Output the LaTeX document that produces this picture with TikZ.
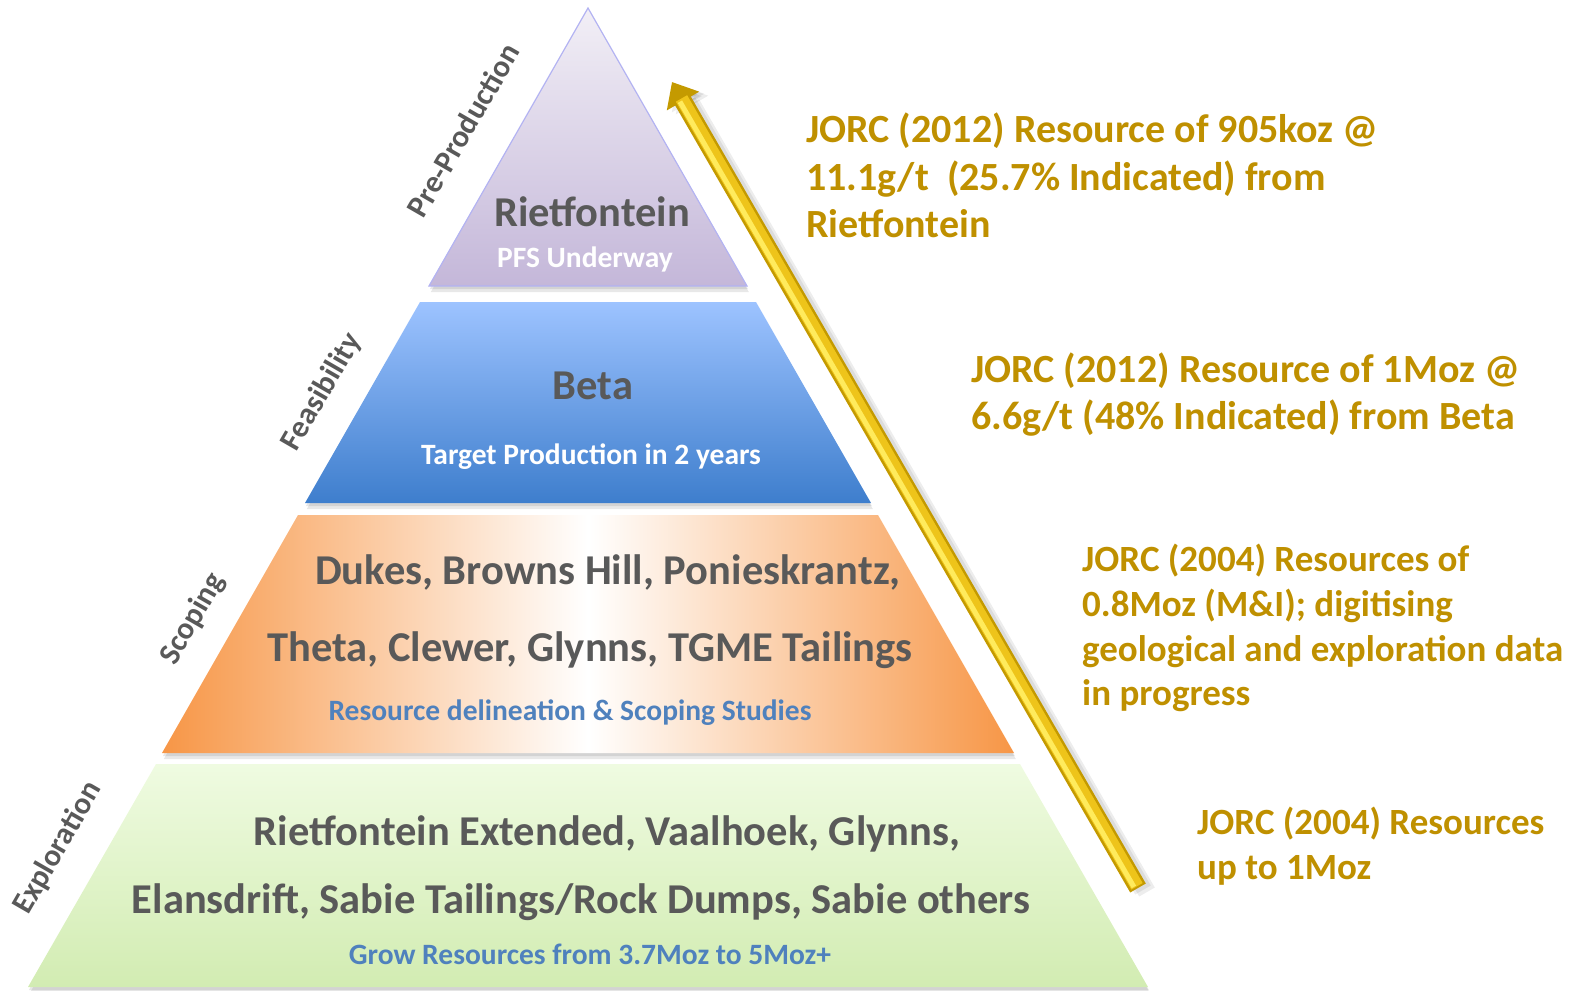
\documentclass[tikz,border=0pt]{standalone}
\usepackage{fontspec}
\setmainfont{Carlito}
\usetikzlibrary{arrows.meta}
\definecolor{dgray}{HTML}{595959}
\definecolor{bluetxt}{HTML}{4F81BD}
\definecolor{goldtxt}{HTML}{BF9000}
\definecolor{triTop}{HTML}{F2EFF6}
\definecolor{triBot}{HTML}{C4B7D9}
\definecolor{triEdge}{HTML}{B3B3F2}
\definecolor{betaTop}{HTML}{9DC3FF}
\definecolor{betaBot}{HTML}{3E7ECD}
\definecolor{orng}{HTML}{F79646}
\definecolor{expTop}{HTML}{EFFBE1}
\definecolor{expBot}{HTML}{D2ECB2}
\definecolor{arrGold}{HTML}{EEC41A}
\definecolor{arrEdge}{HTML}{C49A00}
\definecolor{arrHi}{HTML}{FFEB5C}
\tikzset{
  shadowfill/.style={fill=black, opacity=0.09},
  maintext/.style={font=\fontsize{42.5}{46}\selectfont\bfseries, text=dgray, inner sep=0pt, anchor=base},
  subtext/.style={font=\fontsize{29.5}{34}\selectfont\bfseries, inner sep=0pt, anchor=base},
  sidetext/.style={font=\fontsize{31}{36}\selectfont\bfseries, text=dgray, rotate=60, inner sep=0pt},
  notetext/.style 2 args={font=\fontsize{#1}{#2}\selectfont\bfseries, text=goldtxt, align=left, anchor=north west, inner sep=0pt},
  arrowtip/.style={-{Triangle[length=22pt,width=36pt]}},
}
\begin{document}
\begin{tikzpicture}[x=1pt,y=-1pt]
\useasboundingbox (0,0) rectangle (1583,991);
% ---- shadows of the levels
\foreach \d in {3,6}{
  \fill[shadowfill] (588+\d*0.3,8+\d) -- (747+\d*0.3,286+\d) -- (429+\d*0.3,286+\d) -- cycle;
  \fill[shadowfill] (420+\d*0.3,302+\d) -- (756+\d*0.3,302+\d) -- (871+\d*0.3,503+\d) -- (305+\d*0.3,503+\d) -- cycle;
  \fill[shadowfill] (298+\d*0.3,515+\d) -- (878+\d*0.3,515+\d) -- (1014+\d*0.3,753+\d) -- (162+\d*0.3,753+\d) -- cycle;
  \fill[shadowfill] (156+\d*0.3,764+\d) -- (1020+\d*0.3,764+\d) -- (1148+\d*0.3,987+\d) -- (28+\d*0.3,987+\d) -- cycle;
}
% ---- levels
\shade[top color=triTop, bottom color=triBot, draw=triEdge, line width=1.2pt]
  (588,8) -- (747,286) -- (429,286) -- cycle;
\shade[top color=betaTop, bottom color=betaBot]
  (420,302) -- (756,302) -- (871,503) -- (305,503) -- cycle;
\shade[left color=orng, right color=orng, middle color=white]
  (298,515) -- (878,515) -- (1014,753) -- (162,753) -- cycle;
\shade[top color=expTop, bottom color=expBot]
  (156,764) -- (1020,764) -- (1148,987) -- (28,987) -- cycle;
% ---- level texts
\node[maintext] (riet) at (592,226) {Rietfontein};
\node[subtext, text=white] (pfs) at (585,267) {PFS Underway};
\node[maintext] (beta) at (593,399) {Beta};
\node[subtext, text=white] (target) at (591,464) {Target Production in 2 years};
\node[maintext] (dukes) at (608,584) {Dukes, Browns Hill, Ponieskrantz,};
\node[maintext] (theta) at (590,661) {Theta, Clewer, Glynns, TGME Tailings};
\node[subtext, text=bluetxt] (resdel) at (570,720) {Resource delineation \& Scoping Studies};
\node[maintext] (rext) at (607,845) {Rietfontein Extended, Vaalhoek, Glynns,};
\node[maintext] (elans) at (581,913) {Elansdrift, Sabie Tailings/Rock Dumps, Sabie others};
\node[subtext, text=bluetxt] (grow) at (590,964) {Grow Resources from 3.7Moz to 5Moz+};
% ---- side labels
\node[sidetext] (preprod) at (463,130) {Pre-Production};
\node[sidetext] (feas) at (322,392) {Feasibility};
\node[sidetext] (scop) at (193,619) {Scoping};
\node[sidetext] (expl) at (58,848) {Exploration};
% ---- arrow
\coordinate (atail) at (1138,888);
\coordinate (ahead) at (672,82);
\coordinate (atailL) at (1135.4,889.5);
\coordinate (aheadL) at (669.4,83.5);
\coordinate (stail1) at (1143,890);
\coordinate (shead1) at (677,84);
\coordinate (stail2) at (1147,892);
\coordinate (shead2) at (681,86);
\draw[line width=18pt, black, opacity=0.07, arrowtip] (stail1) -- (shead1);
\draw[line width=18pt, black, opacity=0.07, arrowtip] (stail2) -- (shead2);
\draw[line width=18pt, arrEdge, arrowtip] (atail) -- (ahead);
\draw[line width=13pt, arrGold, shorten >=19pt, shorten <=2pt] (atail) -- (ahead);
\draw[line width=5pt, arrHi, shorten >=21pt, shorten <=3pt] (atailL) -- (aheadL);
% ---- notes
\node[notetext={40}{47.5}] (n1) at (806,113) {JORC (2012) Resource of 905koz @\\11.1g/t\ \ (25.7\% Indicated) from\\Rietfontein};
\node[notetext={40}{47}] (n2) at (971,353) {JORC (2012) Resource of 1Moz @\\6.6g/t (48\% Indicated) from Beta};
\node[notetext={37}{44.7}] (n3) at (1082,544) {JORC (2004) Resources of\\0.8Moz (M\&I); digitising\\geological and exploration data\\in progress};
\node[notetext={37}{45}] (n4) at (1197,807) {JORC (2004) Resources\\up to 1Moz};
\end{tikzpicture}
\end{document}
